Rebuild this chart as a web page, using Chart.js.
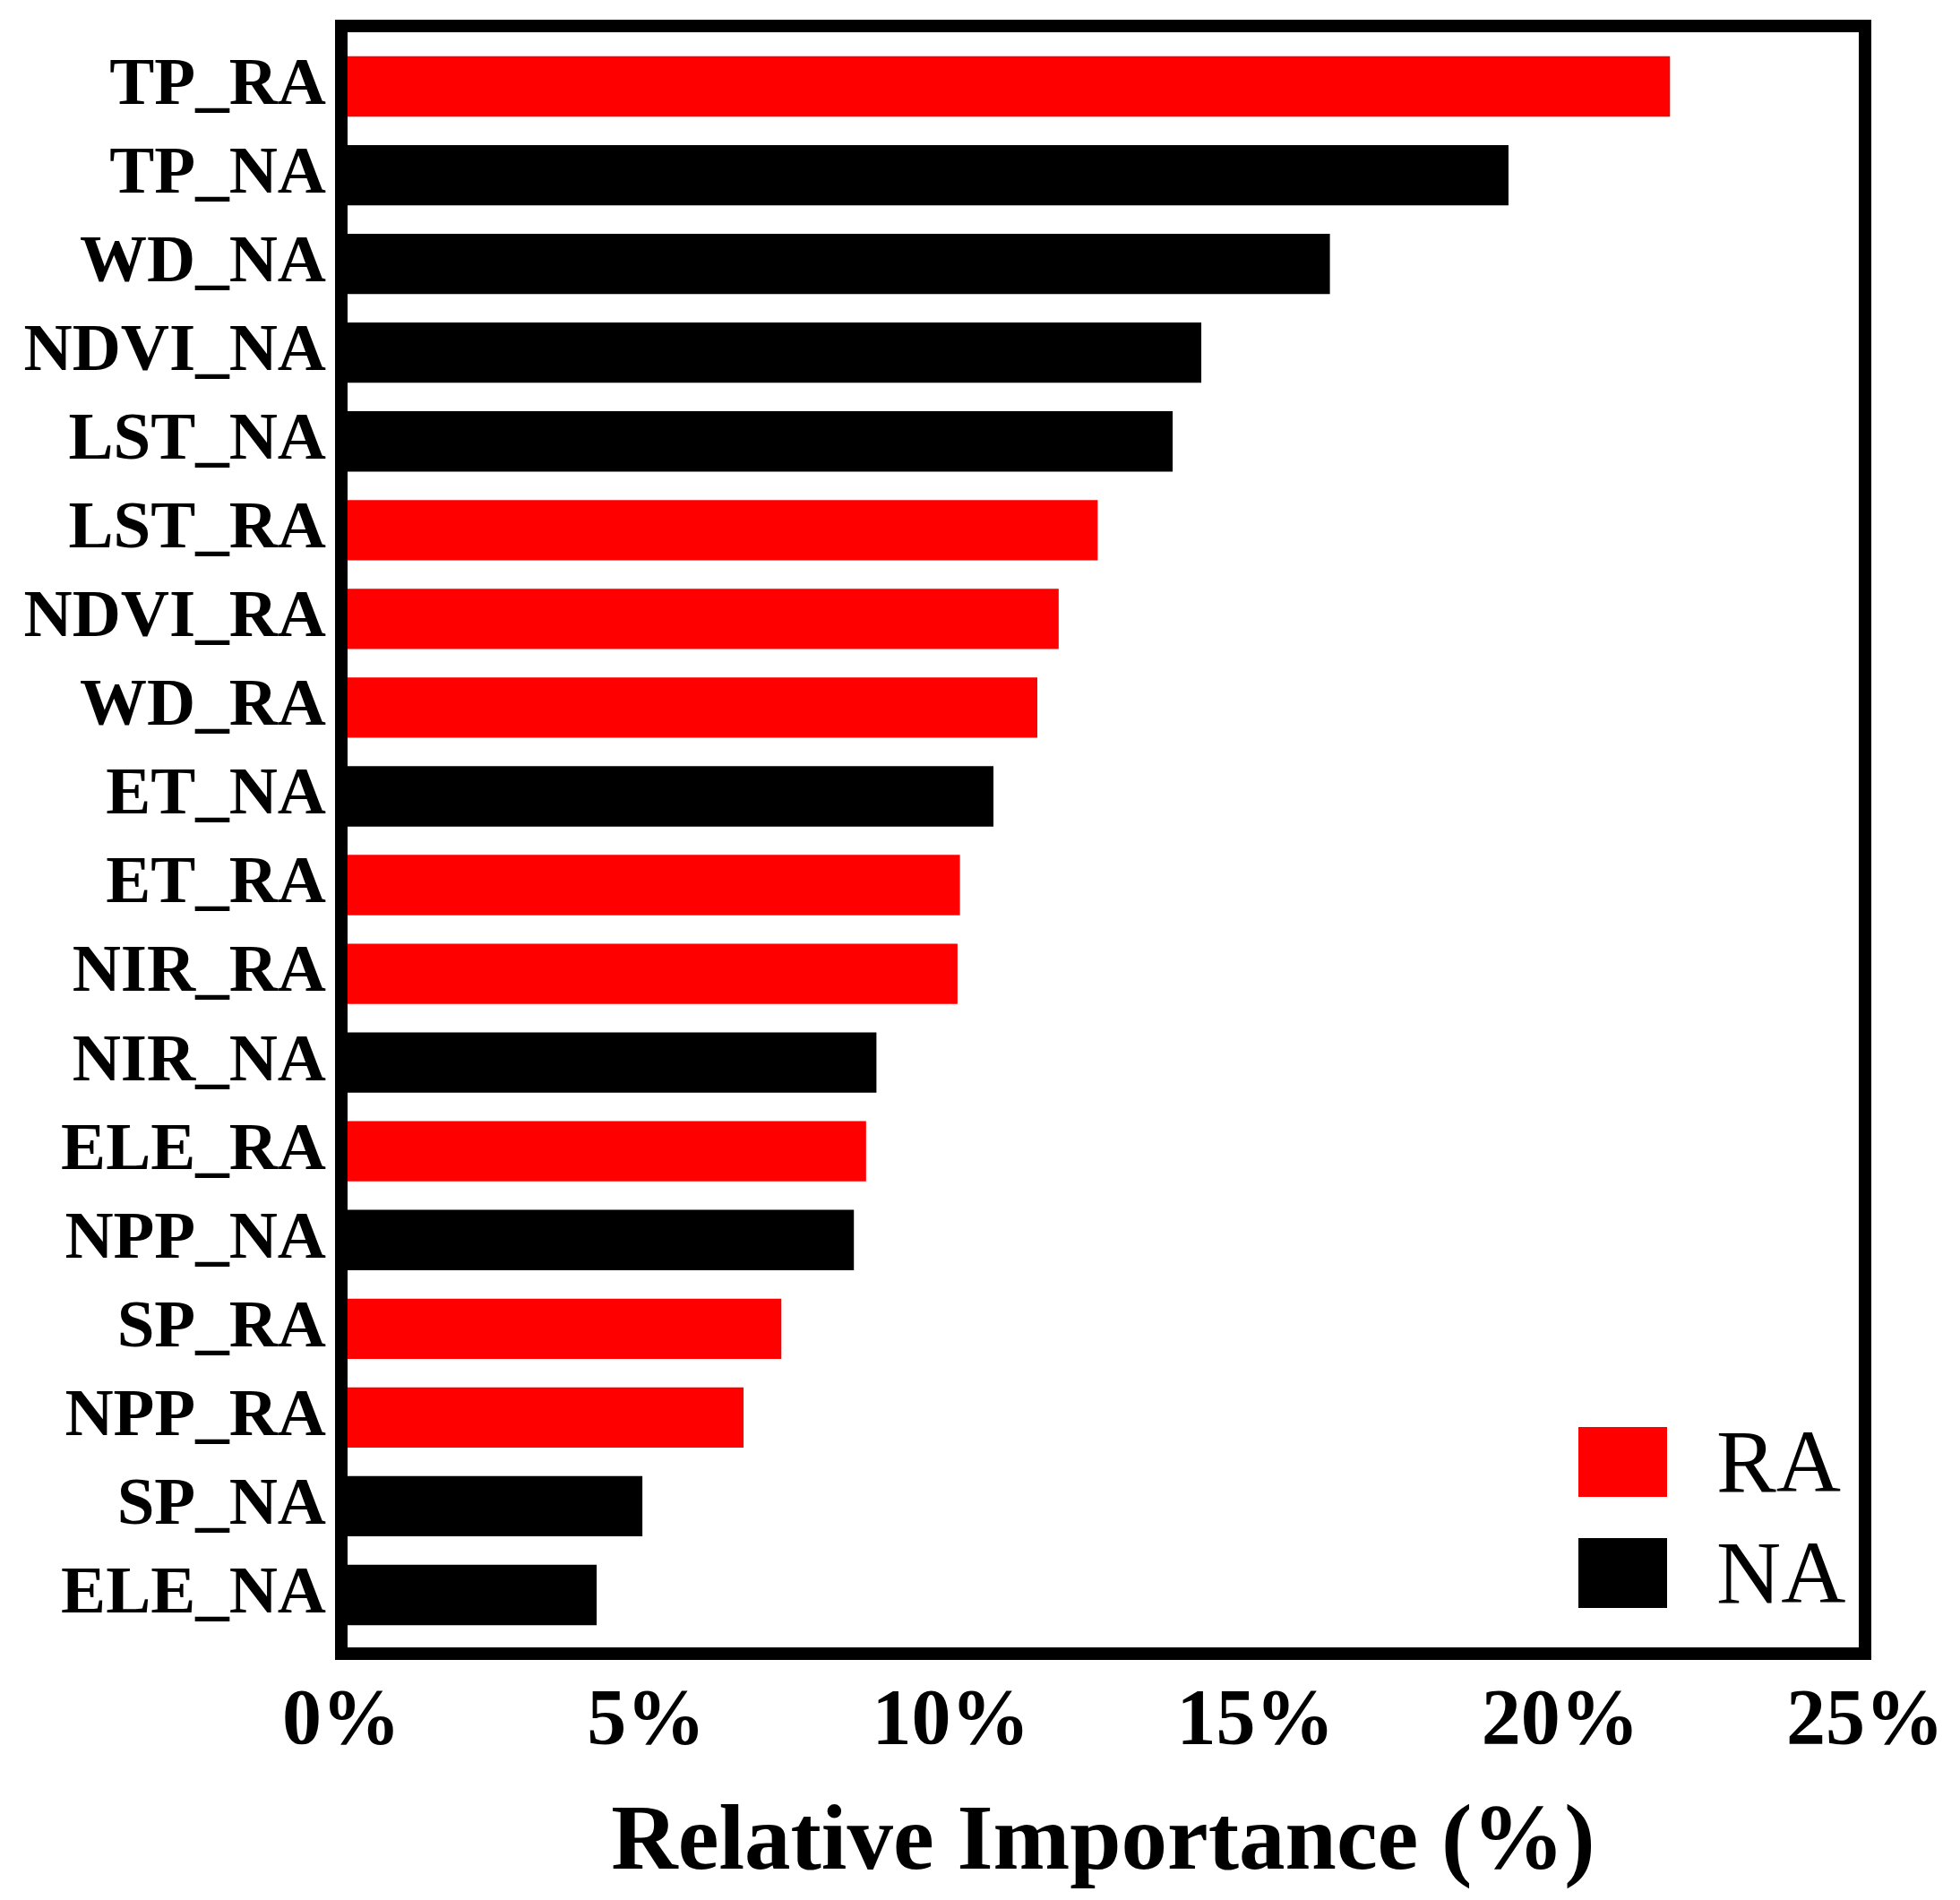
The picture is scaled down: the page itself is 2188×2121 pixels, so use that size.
<!DOCTYPE html>
<html>
<head>
<meta charset="utf-8">
<script src="https://cdn.jsdelivr.net/npm/chart.js@4"></script>
<style>
  html, body { margin: 0; padding: 0; background: #fff; }
  #wrap { width: 2188px; height: 2121px; }
</style>
</head>
<body>
<div id="wrap"><canvas id="myChart" width="2188" height="2121"></canvas></div>
<script>
const labels = ['TP_RA','TP_NA','WD_NA','NDVI_NA','LST_NA','LST_RA','NDVI_RA','WD_RA','ET_NA',
                'ET_RA','NIR_RA','NIR_NA','ELE_RA','NPP_NA','SP_RA','NPP_RA','SP_NA','ELE_NA'];
const raValues = [21.80, null, null, null, null, 12.41, 11.77, 11.42, null,
                  10.15, 10.11, null, 8.61, null, 7.22, 6.60, null, null];
const naValues = [null, 19.15, 16.22, 14.11, 13.64, null, null, null, 10.70,
                  null, null, 8.78, null, 8.41, null, null, 4.94, 4.19];
const seriesNames = ['RA', 'NA'];
const xTicks = [0, 5, 10, 15, 20, 25];

const serif = "'Liberation Serif', 'Times New Roman', serif";

// frame around the plot + legend inside the bottom right corner
const framePlugin = {
  id: 'frame',
  afterDraw(chart){
    const ctx = chart.ctx;
    const a = chart.chartArea;
    ctx.save();
    ctx.strokeStyle = '#000';
    ctx.lineWidth = 14;
    ctx.strokeRect(a.left, a.top - 18, a.right - a.left, a.bottom - a.top + 34);

    ctx.font = '100px ' + serif;
    ctx.textBaseline = 'alphabetic';
    ctx.textAlign = 'left';
    chart.data.datasets.forEach((ds, i) => {
      const top = a.bottom - 237 + i * 124;
      ctx.fillStyle = ds.backgroundColor;
      ctx.fillRect(a.right - 320, top, 99, 78);
      ctx.fillStyle = '#000';
      ctx.fillText(ds.label, a.right - 166, top + 72);
    });
    ctx.restore();
  }
};

function noMargins(scale){
  scale.paddingLeft = 0;
  scale.paddingRight = 0;
  scale.paddingTop = 0;
  scale.paddingBottom = 0;
}

const ctx = document.getElementById('myChart');
new Chart(ctx, {
  type: 'bar',
  data: {
    labels: labels,
    datasets: [
      { label: seriesNames[0], data: raValues, backgroundColor: '#ff0000' },
      { label: seriesNames[1], data: naValues, backgroundColor: '#000000' }
    ]
  },
  options: {
    indexAxis: 'y',
    responsive: false,
    animation: false,
    devicePixelRatio: 1,
    grouped: false,
    skipNull: true,
    barPercentage: 0.68,
    categoryPercentage: 1.0,
    layout: { padding: { top: 47, right: 106, left: 0, bottom: 0 } },
    plugins: {
      legend: { display: false },
      tooltip: { enabled: false }
    },
    scales: {
      x: {
        min: 0,
        max: 25,
        afterBuildTicks(scale){
          scale.ticks = xTicks.map(v => ({ value: v }));
        },
        afterFit(scale){
          scale.height = 2121 - 1830;
          noMargins(scale);
        },
        grid: { display: false, drawTicks: false },
        border: { display: false },
        ticks: {
          padding: 40,
          color: '#000',
          font: { family: serif, size: 88, weight: 'bold' },
          callback: v => v + '%'
        },
        title: {
          display: true,
          text: 'Relative Importance (%)',
          color: '#000',
          font: { family: serif, size: 103, weight: 'bold' },
          padding: { top: 40, bottom: 0 }
        }
      },
      y: {
        afterFit(scale){
          scale.width = 381;
          noMargins(scale);
        },
        grid: { display: false, drawTicks: false },
        border: { display: false },
        ticks: {
          padding: 17,
          color: '#000',
          font: { family: serif, size: 75, weight: 'bold' }
        }
      }
    }
  },
  plugins: [framePlugin]
});
</script>
</body>
</html>
